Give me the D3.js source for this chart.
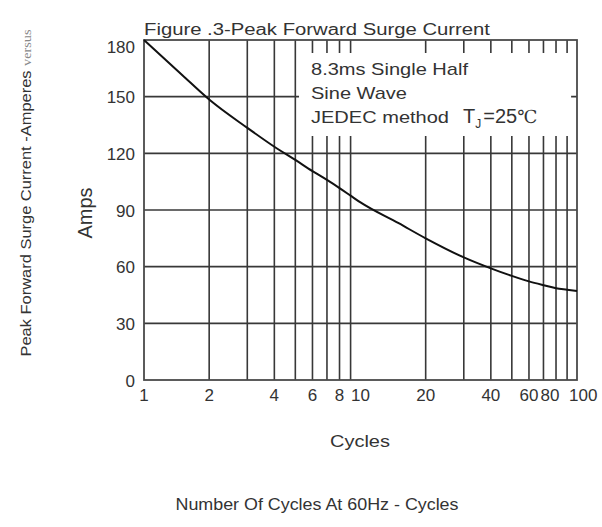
<!DOCTYPE html>
<html>
<head>
<meta charset="utf-8">
<script src="https://cdn.jsdelivr.net/npm/d3@7"></script>
<style>
  body { margin: 0; background: #fff; }
  text { font-family: "Liberation Sans", Arial, sans-serif; fill: #333; }
</style>
</head>
<body>
<svg id="chart" width="602" height="527"></svg>
<script>
// datos (curva sobre escala log)
const cycles = [1, 1.5, 2, 3, 4, 5, 6, 7, 8, 9, 10, 15, 20, 30, 40, 50, 60, 70, 80, 90, 100];
const amps   = [180, 161.5, 148.5, 133.5, 123.5, 116.5, 110.6, 105.9, 101.6, 97.6, 94, 83, 75, 64.9, 59.1, 55.1, 52.2, 50.2, 48.6, 47.8, 47.1];

const xGrid = [2, 3, 4, 5, 6, 7, 8, 9, 20, 30, 40, 50, 60, 70, 80, 90];
const xTickLabels = [1, 2, 4, 6, 8, 10, 20, 40, 60, 80, 100];
const yTicks = [0, 30, 60, 90, 120, 150, 180];
const legend = ["8.3ms Single Half", "Sine Wave", "JEDEC method"];

const svg = d3.select("#chart"),
    width = +svg.attr("width"),
    height = +svg.attr("height");

const margin = {top: 40, right: 25, bottom: 147, left: 144};
const w = width - margin.left - margin.right,
      h = height - margin.top - margin.bottom;

const x = d3.scaleLog().domain([1, 100]).range([0, w]);
const y = d3.scaleLinear().domain([0, 180]).range([h, 0]);

const g = svg.append("g").attr("transform", `translate(${margin.left},${margin.top})`);

// rejilla
g.append("g").selectAll("line")
    .data(yTicks.filter(d => d > 0 && d < 180))
    .join("line")
    .attr("x1", 0).attr("x2", w)
    .attr("y1", d => y(d)).attr("y2", d => y(d))
    .attr("stroke", "#383838").attr("stroke-width", 1.6);

g.append("g").selectAll("line")
    .data(xGrid)
    .join("line")
    .attr("x1", d => x(d)).attr("x2", d => x(d))
    .attr("y1", 0).attr("y2", h)
    .attr("stroke", "#383838").attr("stroke-width", 1.6);

// caja blanca de la leyenda (tapa la rejilla)
g.append("rect")
    .attr("x", x(5.2)).attr("y", 13)
    .attr("width", x(90) - x(5.2) + 4).attr("height", 83)
    .attr("fill", "#fff");

// borde
g.append("rect")
    .attr("x", 0).attr("y", 0).attr("width", w).attr("height", h)
    .attr("fill", "none").attr("stroke", "#4a4a4a").attr("stroke-width", 1.8);

// curva
const line = d3.line()
    .x((d, i) => x(cycles[i]))
    .y(d => y(d))
    .curve(d3.curveMonotoneX);

g.append("path")
    .datum(amps)
    .attr("d", line)
    .attr("fill", "none")
    .attr("stroke", "#111")
    .attr("stroke-width", 2);

// etiquetas eje y
g.append("g").selectAll("text")
    .data(yTicks)
    .join("text")
    .attr("x", -9).attr("y", d => y(d))
    .attr("dy", d => d === 180 ? "0.75em" : "0.4em")
    .attr("text-anchor", "end")
    .style("font-size", "17px")
    .text(d => d);

// etiquetas eje x (80 y 100 se apartan como en el original)
g.append("g").selectAll("text")
    .data(xTickLabels)
    .join("text")
    .attr("x", d => x(d)).attr("y", h + 21)
    .attr("dx", d => d === 80 ? -6 : (d === 100 ? -8 : 0))
    .attr("text-anchor", d => d === 100 ? "start" : "middle")
    .style("font-size", "17px")
    .text(d => d);

// titulo
svg.append("text")
    .attr("x", margin.left).attr("y", 35)
    .attr("textLength", 346).attr("lengthAdjust", "spacingAndGlyphs")
    .style("font-size", "16px")
    .text("Figure .3-Peak Forward Surge Current");

// leyenda
const legendLen = [157, 96, 138];
g.append("g").selectAll("text")
    .data(legend)
    .join("text")
    .attr("x", 167).attr("y", (d, i) => 35 + i * 24)
    .attr("textLength", (d, i) => legendLen[i]).attr("lengthAdjust", "spacingAndGlyphs")
    .style("font-size", "17px")
    .text(d => d);

const tj = g.append("text")
    .attr("x", 319).attr("y", 83)
    .style("font-size", "20px");
tj.append("tspan").text("T");
tj.append("tspan").attr("dy", 5).style("font-size", "12px").text("J");
tj.append("tspan").attr("dy", -5).attr("dx", 2).text("=25");
tj.append("tspan").style("font-family", "'DejaVu Serif', serif").style("font-size", "18px").text("℃");

// titulos de ejes
svg.append("text")
    .attr("transform", "translate(92,213) rotate(-90)")
    .attr("text-anchor", "middle")
    .style("font-size", "20px")
    .text("Amps");

const ylab = svg.append("text")
    .attr("transform", "translate(31,193) rotate(-90)")
    .attr("text-anchor", "middle")
    .attr("textLength", 327).attr("lengthAdjust", "spacingAndGlyphs")
    .style("font-size", "15px");
ylab.append("tspan").text("Peak Forward Surge Current -Amperes ");
ylab.append("tspan")
    .style("font-family", "'Liberation Serif', serif")
    .style("font-size", "13px")
    .style("fill", "#888")
    .text("versus");

svg.append("text")
    .attr("x", 360).attr("y", 447)
    .attr("text-anchor", "middle")
    .attr("textLength", 60).attr("lengthAdjust", "spacingAndGlyphs")
    .style("font-size", "17px")
    .text("Cycles");

svg.append("text")
    .attr("x", 317).attr("y", 510)
    .attr("text-anchor", "middle")
    .attr("textLength", 283).attr("lengthAdjust", "spacingAndGlyphs")
    .style("font-size", "16px")
    .text("Number Of Cycles At 60Hz - Cycles");
</script>
</body>
</html>
